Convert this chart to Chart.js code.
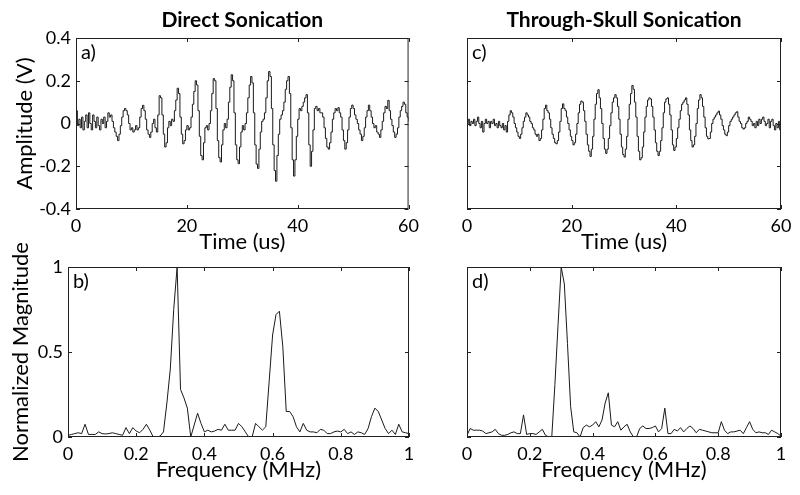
<!DOCTYPE html>
<html>
<head>
<meta charset="utf-8">
<script src="https://cdn.jsdelivr.net/npm/chart.js@4.4.0/dist/chart.umd.min.js"></script>
<style>
  html, body { margin: 0; padding: 0; background: #fff; }
  #wrap { position: relative; width: 800px; height: 495px; overflow: hidden; }
  canvas { position: absolute; }
</style>
</head>
<body>
<div id="wrap">
  <canvas id="chartA" width="425" height="255" style="left:0;top:0"></canvas>
  <canvas id="chartB" width="425" height="280" style="left:0;top:215px"></canvas>
  <canvas id="chartC" width="375" height="255" style="left:425px;top:0"></canvas>
  <canvas id="chartD" width="375" height="240" style="left:425px;top:255px"></canvas>
</div>
<script>
// sampling grids
const sampleStepUs = 0.25;
const freqStepMHz = 0.01;

// tick labels
const timeTicks = [0, 20, 40, 60];
const amplitudeTicks = [-0.4, -0.2, 0, 0.2, 0.4];
const freqTicks = [0, 0.2, 0.4, 0.6, 0.8, 1];
const magnitudeTicks = [0, 0.5, 1];

// a) direct sonication, amplitude (V), one value per 0.25 us
const directSignal = [
  0.06, -0.01, 0.02, -0.02, 0.03, -0.03, 0.01, 0.04, -0.02, 0.05, 0.0, -0.03, 0.04, 0.01, -0.02, 0.03, -0.01, -0.03, 0.02, 0.0,
  0.03, -0.02, 0.01, 0.05, 0.03, 0.04, 0.01, -0.02, -0.04, -0.06, -0.08, -0.05, -0.01, 0.03, 0.06, 0.07, 0.06, 0.04, 0.0, -0.03,
  -0.02, -0.04, -0.03, -0.01, -0.03, -0.02, 0.03, 0.07, 0.085, 0.06, 0.02, -0.03, -0.05, -0.065, -0.04, 0.0, 0.02, -0.02, -0.04, 0.04,
  0.13, 0.12, 0.04, -0.05, -0.11, -0.09, -0.02, 0.01, -0.01, 0.02, 0.01, 0.06, 0.11, 0.165, 0.14, 0.03, -0.05, -0.095, -0.08, -0.03,
  -0.01, -0.03, -0.02, 0.03, 0.09, 0.15, 0.2, 0.18, 0.06, -0.06, -0.15, -0.17, -0.09, -0.02, -0.01, -0.03, 0.0, 0.06, 0.14, 0.21,
  0.2, 0.07, -0.08, -0.16, -0.18, -0.1, -0.03, 0.0, -0.02, 0.02, 0.1, 0.17, 0.228, 0.2, 0.05, -0.1, -0.17, -0.188, -0.11, -0.04,
  -0.01, -0.03, 0.0, 0.05, 0.12, 0.18, 0.22, 0.19, 0.05, -0.1, -0.19, -0.21, -0.12, -0.04, 0.01, 0.02, 0.05, 0.12, 0.2, 0.243,
  0.22, 0.07, -0.1, -0.22, -0.27, -0.15, -0.05, 0.02, 0.04, 0.06, 0.1, 0.16, 0.2, 0.22, 0.14, -0.02, -0.17, -0.246, -0.17, -0.06,
  0.02, 0.07, 0.06, 0.08, 0.1, 0.12, 0.135, 0.05, -0.1, -0.2, -0.13, -0.03, 0.07, 0.08, 0.06, 0.07, 0.05, 0.05, 0.03, -0.02,
  -0.07, -0.11, -0.12, -0.09, -0.04, 0.02, 0.05, 0.07, 0.06, 0.074, 0.05, 0.03, -0.03, -0.08, -0.12, -0.09, -0.03, 0.03, 0.07, 0.086,
  0.07, 0.04, 0.02, 0.0, -0.03, -0.05, -0.08, -0.06, -0.02, 0.03, 0.06, 0.086, 0.06, 0.03, 0.0, -0.02, -0.01, -0.04, -0.05, -0.065,
  -0.03, 0.01, 0.05, 0.08, 0.07, 0.108, 0.06, 0.02, -0.01, -0.04, -0.065, -0.05, -0.02, 0.03, 0.06, 0.08, 0.1, 0.09, 0.05, 0.03,
  0.01
];

// c) through-skull sonication, amplitude (V), one value per 0.25 us
const skullSignal = [
  0.0, 0.02, -0.01, 0.01, 0.0, 0.02, -0.01, 0.01, 0.03, 0.0, -0.02, 0.01, -0.04, 0.0, 0.02, 0.0, 0.01, -0.02, 0.01, 0.0,
  0.02, -0.01, 0.0, -0.02, 0.01, -0.01, -0.02, 0.0, -0.03, -0.01, -0.04, 0.01, 0.04, 0.06, 0.05, 0.03, 0.0, -0.02, -0.04, -0.06,
  -0.07, -0.05, -0.02, 0.01, 0.03, 0.05, 0.04, 0.03, 0.01, 0.0, -0.02, -0.03, -0.05, -0.06, -0.05, -0.08, -0.07, -0.03, 0.02, 0.07,
  0.086, 0.06, 0.05, 0.02, -0.02, -0.05, -0.07, -0.09, -0.095, -0.08, -0.04, 0.01, 0.07, 0.092, 0.07, 0.06, 0.03, 0.0, -0.03, -0.06,
  -0.08, -0.1, -0.09, -0.05, 0.0, 0.05, 0.09, 0.105, 0.1, 0.06, 0.01, -0.05, -0.1, -0.13, -0.154, -0.12, -0.06, 0.02, 0.09, 0.14,
  0.158, 0.12, 0.07, 0.0, -0.07, -0.12, -0.14, -0.12, -0.07, -0.01, 0.05, 0.1, 0.12, 0.135, 0.12, 0.08, 0.02, -0.05, -0.11, -0.145,
  -0.157, -0.12, -0.06, 0.02, 0.09, 0.14, 0.178, 0.16, 0.1, 0.03, -0.06, -0.13, -0.17, -0.16, -0.11, -0.04, 0.03, 0.08, 0.11, 0.12,
  0.115, 0.08, 0.03, -0.03, -0.09, -0.13, -0.15, -0.13, -0.08, -0.02, 0.05, 0.1, 0.115, 0.12, 0.09, 0.04, -0.03, -0.1, -0.126, -0.11,
  -0.07, -0.02, 0.02, 0.06, 0.09, 0.1, 0.11, 0.12, 0.09, 0.04, -0.03, -0.08, -0.11, -0.1, -0.06, 0.0, 0.07, 0.11, 0.135, 0.12,
  0.08, 0.03, -0.02, -0.06, -0.072, -0.07, -0.04, 0.0, 0.02, 0.03, 0.04, 0.05, 0.058, 0.04, 0.02, -0.01, -0.03, -0.05, -0.057, -0.04,
  -0.01, 0.01, 0.02, 0.03, 0.04, 0.05, 0.055, 0.03, 0.01, 0.0, -0.02, -0.026, -0.02, 0.0, 0.01, 0.03, 0.02, 0.01, -0.01, 0.0,
  -0.02, 0.01, -0.01, 0.02, 0.0, 0.02, 0.03, 0.01, -0.01, 0.0, 0.02, -0.02, 0.01, 0.02, -0.01, -0.03, 0.0, -0.02, 0.01, -0.03,
  -0.01
];

// b) normalized magnitude, one value per 0.01 MHz
const directSpectrum = [
  0.01, 0.015, 0.02, 0.025, 0.02, 0.075, 0.015, 0.015, 0.015, 0.03,
  0.02, 0.018, 0.02, 0.025, 0.02, 0.015, 0.01, 0.055, 0.02, 0.055,
  0.035, 0.025, 0.045, 0.075, 0.04, 0.0, 0.0, 0.005, 0.03, 0.2,
  0.4, 0.75, 1.0, 0.28, 0.23, 0.17, 0.0, 0.07, 0.14, 0.08,
  0.03, 0.04, 0.03, 0.035, 0.045, 0.04, 0.075, 0.04, 0.04, 0.04,
  0.08, 0.06, 0.03, 0.0, 0.0, 0.08, 0.06, 0.04, 0.06, 0.33,
  0.6, 0.72, 0.74, 0.53, 0.15, 0.15, 0.12, 0.06, 0.03, 0.08,
  0.04, 0.03, 0.03, 0.025, 0.045, 0.04, 0.02, 0.02, 0.03, 0.035,
  0.03, 0.045, 0.02, 0.03, 0.015, 0.03, 0.025, 0.015, 0.05, 0.12,
  0.17, 0.15, 0.1, 0.05, 0.02, 0.04, 0.015, 0.075, 0.03, 0.025,
  0.02
];

// d) normalized magnitude, one value per 0.01 MHz
const skullSpectrum = [
  0.01, 0.05, 0.04, 0.04, 0.04, 0.035, 0.02, 0.025, 0.03, 0.045,
  0.02, 0.01, 0.01, 0.015, 0.025, 0.03, 0.02, 0.02, 0.13, 0.015,
  0.02, 0.02, 0.015, 0.03, 0.045, 0.01, 0.0, 0.0, 0.31, 0.66,
  1.0, 0.9, 0.55, 0.18, 0.03, 0.025, 0.0, 0.055, 0.07, 0.06,
  0.07, 0.09, 0.06, 0.1, 0.2, 0.26, 0.07, 0.06, 0.09, 0.04,
  0.06, 0.075, 0.03, 0.0, 0.0, 0.05, 0.065, 0.05, 0.05, 0.055,
  0.065, 0.03, 0.05, 0.17, 0.02, 0.02, 0.045, 0.035, 0.055, 0.03,
  0.05, 0.065, 0.05, 0.025, 0.045, 0.04, 0.035, 0.03, 0.025, 0.025,
  0.025, 0.09, 0.04, 0.02, 0.03, 0.03, 0.035, 0.04, 0.02, 0.055,
  0.09, 0.045, 0.025, 0.03, 0.025, 0.025, 0.015, 0.04, 0.03, 0.02,
  0.005
];

Chart.defaults.font.family = "Lato, 'Open Sans', sans-serif";
Chart.defaults.color = "#000";

// box round the plot with inward ticks on all four sides
const matlabFrame = {
  id: "matlabFrame",
  afterDatasetsDraw(chart) {
    const { ctx, chartArea: area, scales } = chart;
    const len = 4;
    ctx.save();
    ctx.strokeStyle = "#222";
    ctx.lineWidth = 1;
    ctx.beginPath();
    scales.x.ticks.forEach((t) => {
      const px = Math.round(scales.x.getPixelForValue(t.value)) + 0.5;
      ctx.moveTo(px, area.bottom);
      ctx.lineTo(px, area.bottom - len);
      ctx.moveTo(px, area.top);
      ctx.lineTo(px, area.top + len);
    });
    scales.y.ticks.forEach((t) => {
      const py = Math.round(scales.y.getPixelForValue(t.value)) + 0.5;
      ctx.moveTo(area.left, py);
      ctx.lineTo(area.left + len, py);
      ctx.moveTo(area.right, py);
      ctx.lineTo(area.right - len, py);
    });
    ctx.stroke();
    ctx.strokeRect(area.left + 0.5, area.top + 0.5, area.width - 1, area.height - 1);
    ctx.restore();
  },
};

const panelLabel = {
  id: "panelLabel",
  afterDraw(chart, args, opts) {
    const { ctx, chartArea } = chart;
    ctx.save();
    ctx.font = "20px Lato, 'Open Sans', sans-serif";
    ctx.fillStyle = "#000";
    ctx.textBaseline = "alphabetic";
    ctx.fillText(opts.text, chartArea.left + 5, chartArea.top + 21);
    ctx.restore();
  },
};

function tickLabel(v) {
  return String(+Number(v).toFixed(2));
}

function makeChart(id, cfg) {
  const points = cfg.values.map((v, i) => ({ x: i * cfg.step, y: v }));
  return new Chart(document.getElementById(id), {
    type: "line",
    data: {
      datasets: [
        {
          data: points,
          borderColor: "#1a1a1a",
          borderWidth: 1,
          pointRadius: 0,
          tension: 0,
          stepped: cfg.stepped,
          fill: false,
        },
      ],
    },
    options: {
      responsive: false,
      animation: false,
      devicePixelRatio: 1,
      events: [],
      layout: { padding: cfg.padding },
      plugins: {
        legend: { display: false },
        tooltip: { enabled: false },
        title: cfg.title
          ? {
              display: true,
              text: cfg.title,
              fullSize: false,
              color: "#000",
              font: { size: 21, weight: "bold", lineHeight: 1 },
              padding: { top: 10, bottom: 7 },
            }
          : { display: false },
        panelLabel: { text: cfg.label },
      },
      scales: {
        x: {
          type: "linear",
          min: cfg.xTicks[0],
          max: cfg.xTicks[cfg.xTicks.length - 1],
          afterBuildTicks: (scale) => {
            scale.ticks = cfg.xTicks.map((v) => ({ value: v }));
          },
          afterFit: (scale) => {
            scale.height = cfg.xHeight;
          },
          grid: { display: false, drawTicks: false },
          border: { display: false },
          ticks: {
            autoSkip: false,
            maxRotation: 0,
            padding: 6,
            font: { size: 18 },
            callback: tickLabel,
          },
          title: {
            display: true,
            text: cfg.xTitle,
            font: { size: 22 },
            padding: { top: 0, bottom: cfg.xTitlePad },
          },
        },
        y: {
          type: "linear",
          min: cfg.yTicks[0],
          max: cfg.yTicks[cfg.yTicks.length - 1],
          afterBuildTicks: (scale) => {
            scale.ticks = cfg.yTicks.map((v) => ({ value: v }));
          },
          afterFit: (scale) => {
            scale.width = cfg.yWidth;
          },
          grid: { display: false, drawTicks: false },
          border: { display: false },
          ticks: {
            display: cfg.yLabels,
            padding: 5,
            font: { size: 18 },
            callback: tickLabel,
          },
          title: {
            display: !!cfg.yTitle,
            text: cfg.yTitle || "",
            font: { size: 22 },
            padding: { top: cfg.yTitlePad || 0, bottom: 0 },
          },
        },
      },
    },
    plugins: [matlabFrame, panelLabel],
  });
}

makeChart("chartA", {
  values: directSignal, step: sampleStepUs, stepped: true,
  xTicks: timeTicks, yTicks: amplitudeTicks,
  title: "Direct Sonication", label: "a)",
  xTitle: "Time (us)", yTitle: "Amplitude (V)", yLabels: true,
  padding: { top: 0, right: 16, bottom: 0, left: 0 },
  xHeight: 46, yWidth: 76, xTitlePad: 0, yTitlePad: 12,
});

// taller canvas so the long y title is not cut at the top
makeChart("chartB", {
  values: directSpectrum, step: freqStepMHz, stepped: false,
  xTicks: freqTicks, yTicks: magnitudeTicks,
  label: "b)",
  xTitle: "Frequency (MHz)", yTitle: "Normalized Magnitude", yLabels: true,
  padding: { top: 52, right: 16, bottom: 0, left: 0 },
  xHeight: 58, yWidth: 68, xTitlePad: 12, yTitlePad: 8,
});

makeChart("chartC", {
  values: skullSignal, step: sampleStepUs, stepped: true,
  xTicks: timeTicks, yTicks: amplitudeTicks,
  title: "Through-Skull Sonication", label: "c)",
  xTitle: "Time (us)", yLabels: false,
  padding: { top: 0, right: 19, bottom: 0, left: 0 },
  xHeight: 46, yWidth: 42, xTitlePad: 0,
});

makeChart("chartD", {
  values: skullSpectrum, step: freqStepMHz, stepped: false,
  xTicks: freqTicks, yTicks: magnitudeTicks,
  label: "d)",
  xTitle: "Frequency (MHz)", yLabels: false,
  padding: { top: 12, right: 19, bottom: 0, left: 0 },
  xHeight: 58, yWidth: 42, xTitlePad: 12,
});
</script>
</body>
</html>
